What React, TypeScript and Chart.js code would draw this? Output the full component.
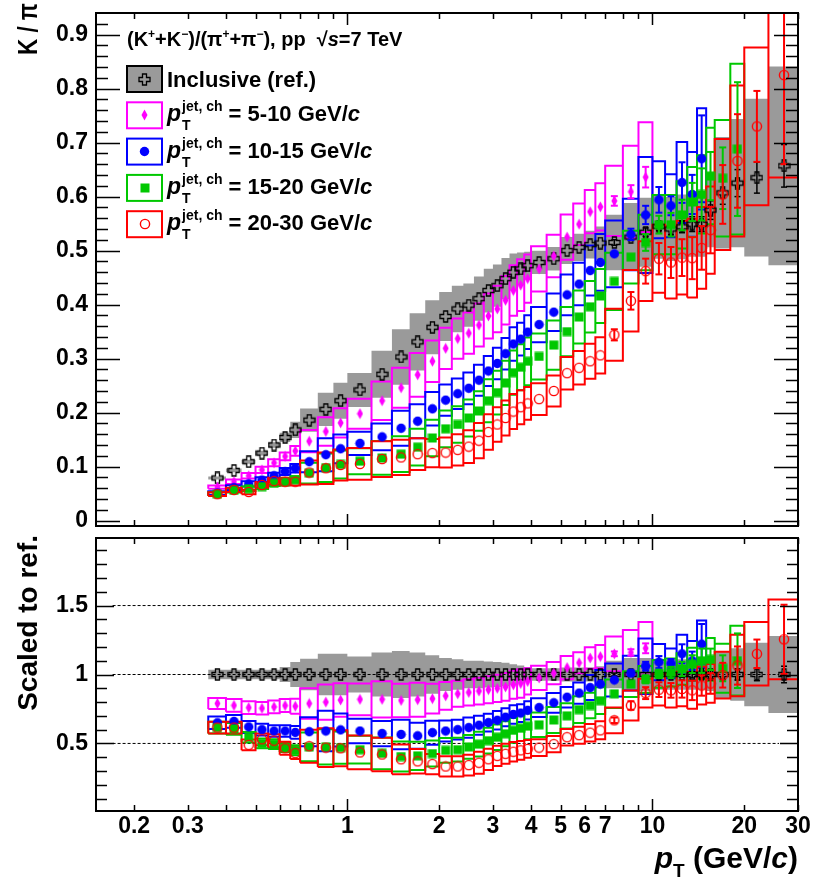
import React, { useEffect, useRef } from "react";
import { Chart, registerables } from "chart.js";

Chart.register(...registerables);

const FONT = "'Liberation Sans', Arial, Helvetica, sans-serif";

// ---------------- data ----------------
const ptLow = [0.35, 0.4, 0.45, 0.5, 0.55, 0.6, 0.65, 0.7, 0.8, 0.9, 1.0, 1.2, 1.4, 1.6, 1.8, 2.0, 2.2, 2.4, 2.6, 2.8, 3.0, 3.2, 3.4, 3.6, 3.8, 4.0, 4.5, 5.0, 5.5, 6.0, 6.5, 7.0, 8, 9, 10, 11, 12, 13, 14, 15, 16, 18, 20, 24];
const ptHigh = [0.4, 0.45, 0.5, 0.55, 0.6, 0.65, 0.7, 0.8, 0.9, 1.0, 1.2, 1.4, 1.6, 1.8, 2.0, 2.2, 2.4, 2.6, 2.8, 3.0, 3.2, 3.4, 3.6, 3.8, 4.0, 4.5, 5.0, 5.5, 6.0, 6.5, 7.0, 8, 9, 10, 11, 12, 13, 14, 15, 16, 18, 20, 24, 30];
const ptCenter = [0.375, 0.425, 0.475, 0.525, 0.575, 0.625, 0.675, 0.75, 0.85, 0.95, 1.1, 1.3, 1.5, 1.7, 1.9, 2.1, 2.3, 2.5, 2.7, 2.9, 3.1, 3.3, 3.5, 3.7, 3.9, 4.25, 4.75, 5.25, 5.75, 6.25, 6.75, 7.5, 8.5, 9.5, 10.5, 11.5, 12.5, 13.5, 14.5, 15.5, 17, 19, 22, 27];

// inclusive K/pi
const inclKpi = [0.079, 0.093, 0.109, 0.125, 0.140, 0.154, 0.168, 0.186, 0.206, 0.222, 0.242, 0.271, 0.303, 0.331, 0.358, 0.378, 0.392, 0.399, 0.411, 0.426, 0.435, 0.448, 0.460, 0.466, 0.472, 0.478, 0.485, 0.500, 0.506, 0.511, 0.514, 0.515, 0.525, 0.534, 0.545, 0.540, 0.544, 0.549, 0.549, 0.575, 0.607, 0.625, 0.635, 0.657];
const inclRatio = [1, 1, 1, 1, 1, 1, 1, 1, 1, 1, 1, 1, 1, 1, 1, 1, 1, 1, 1, 1, 1, 1, 1, 1, 1, 1, 1, 1, 1, 1, 1, 1, 1, 1, 1, 1, 1, 1, 1, 1, 1, 1, 1, 1];
const inclSysRel = [0.035, 0.035, 0.035, 0.035, 0.035, 0.055, 0.09, 0.115, 0.15, 0.15, 0.13, 0.16, 0.17, 0.16, 0.14, 0.12, 0.11, 0.10, 0.10, 0.095, 0.09, 0.085, 0.075, 0.065, 0.055, 0.045, 0.045, 0.05, 0.05, 0.05, 0.06, 0.10, 0.12, 0.12, 0.11, 0.11, 0.11, 0.11, 0.11, 0.12, 0.17, 0.19, 0.23, 0.28];
const inclStatRel = [0, 0, 0, 0, 0, 0, 0, 0, 0, 0, 0, 0, 0, 0, 0, 0, 0, 0, 0, 0, 0, 0, 0, 0, 0, 0, 0, 0, 0, 0, 0, 0.01, 0.01, 0.015, 0.015, 0.02, 0.02, 0.025, 0.025, 0.03, 0.035, 0.04, 0.045, 0.06];

// jet pT 5-10 GeV/c
const jet5to10 = [0.062, 0.072, 0.083, 0.094, 0.107, 0.119, 0.129, 0.147, 0.165, 0.181, 0.198, 0.222, 0.246, 0.270, 0.295, 0.319, 0.337, 0.347, 0.362, 0.379, 0.392, 0.408, 0.426, 0.436, 0.448, 0.466, 0.490, 0.525, 0.549, 0.572, 0.581, 0.592, 0.609, 0.636];
const jet5to10Ratio = [0.79, 0.776, 0.76, 0.755, 0.765, 0.775, 0.77, 0.79, 0.80, 0.815, 0.82, 0.82, 0.812, 0.817, 0.825, 0.845, 0.86, 0.87, 0.88, 0.89, 0.90, 0.91, 0.925, 0.935, 0.95, 0.975, 1.01, 1.05, 1.085, 1.12, 1.13, 1.15, 1.16, 1.19];
const jet5to10Sys = [0.05, 0.06, 0.06, 0.06, 0.06, 0.06, 0.07, 0.14, 0.16, 0.15, 0.14, 0.16, 0.15, 0.15, 0.13, 0.12, 0.11, 0.11, 0.11, 0.11, 0.11, 0.11, 0.11, 0.11, 0.10, 0.09, 0.08, 0.08, 0.07, 0.07, 0.075, 0.11, 0.14, 0.16];
const jet5to10Stat = [0, 0, 0, 0, 0, 0, 0, 0, 0, 0, 0, 0, 0, 0, 0, 0, 0, 0, 0, 0, 0, 0, 0, 0, 0, 0, 0, 0, 0, 0, 0, 0.015, 0.02, 0.03];

// jet pT 10-15 GeV/c
const jet10to15 = [0.051, 0.061, 0.068, 0.075, 0.083, 0.091, 0.097, 0.109, 0.122, 0.133, 0.143, 0.155, 0.171, 0.184, 0.207, 0.223, 0.235, 0.245, 0.260, 0.277, 0.291, 0.309, 0.327, 0.336, 0.349, 0.363, 0.386, 0.418, 0.438, 0.463, 0.478, 0.494, 0.530, 0.566, 0.594, 0.583, 0.626, 0.604, 0.670];
const jet10to15Ratio = [0.65, 0.66, 0.62, 0.60, 0.59, 0.59, 0.58, 0.585, 0.59, 0.598, 0.59, 0.572, 0.565, 0.555, 0.578, 0.59, 0.60, 0.615, 0.632, 0.651, 0.668, 0.69, 0.71, 0.72, 0.74, 0.76, 0.795, 0.835, 0.865, 0.905, 0.93, 0.96, 1.01, 1.06, 1.09, 1.08, 1.15, 1.10, 1.22];
const jet10to15Sys = [0.07, 0.07, 0.07, 0.07, 0.07, 0.07, 0.08, 0.18, 0.25, 0.20, 0.15, 0.16, 0.19, 0.17, 0.15, 0.13, 0.12, 0.12, 0.11, 0.10, 0.10, 0.095, 0.095, 0.09, 0.09, 0.09, 0.09, 0.09, 0.09, 0.10, 0.11, 0.125, 0.125, 0.19, 0.12, 0.10, 0.12, 0.13, 0.14];
const jet10to15Stat = [0, 0, 0, 0, 0, 0, 0, 0, 0, 0, 0, 0, 0, 0, 0, 0, 0, 0, 0, 0, 0, 0, 0, 0, 0, 0, 0, 0, 0, 0, 0, 0, 0.02, 0.03, 0.04, 0.03, 0.06, 0.06, 0.12];

// jet pT 15-20 GeV/c
const jet15to20 = [0.049, 0.056, 0.059, 0.063, 0.069, 0.072, 0.076, 0.088, 0.098, 0.104, 0.110, 0.116, 0.123, 0.136, 0.153, 0.170, 0.178, 0.190, 0.203, 0.222, 0.237, 0.255, 0.274, 0.284, 0.295, 0.304, 0.325, 0.350, 0.377, 0.396, 0.416, 0.443, 0.488, 0.515, 0.548, 0.548, 0.566, 0.590, 0.604, 0.638, 0.634, 0.688];
const jet15to20Ratio = [0.615, 0.605, 0.545, 0.50, 0.495, 0.47, 0.45, 0.475, 0.475, 0.47, 0.455, 0.428, 0.405, 0.41, 0.427, 0.45, 0.455, 0.475, 0.495, 0.52, 0.545, 0.57, 0.595, 0.61, 0.625, 0.635, 0.67, 0.70, 0.745, 0.775, 0.81, 0.86, 0.93, 0.965, 1.005, 1.015, 1.04, 1.075, 1.10, 1.11, 1.045, 1.10];
const jet15to20Sys = [0.07, 0.07, 0.07, 0.07, 0.07, 0.07, 0.08, 0.22, 0.27, 0.25, 0.22, 0.27, 0.27, 0.25, 0.22, 0.2, 0.19, 0.18, 0.18, 0.18, 0.17, 0.16, 0.15, 0.15, 0.15, 0.14, 0.14, 0.13, 0.13, 0.12, 0.12, 0.12, 0.10, 0.10, 0.10, 0.10, 0.11, 0.11, 0.12, 0.14, 0.17, 0.23];
const jet15to20Stat = [0, 0, 0, 0, 0, 0, 0, 0, 0, 0, 0, 0, 0, 0, 0, 0, 0, 0, 0, 0, 0, 0, 0, 0, 0, 0, 0, 0, 0, 0, 0, 0, 0, 0.03, 0.03, 0.04, 0.05, 0.06, 0.08, 0.07, 0.09, 0.18];

// jet pT 20-30 GeV/c
const jet20to30 = [0.049, 0.057, 0.053, 0.066, 0.073, 0.072, 0.072, 0.089, 0.097, 0.103, 0.105, 0.114, 0.117, 0.123, 0.125, 0.126, 0.131, 0.137, 0.148, 0.164, 0.178, 0.190, 0.202, 0.210, 0.217, 0.225, 0.240, 0.273, 0.283, 0.295, 0.306, 0.344, 0.407, 0.462, 0.485, 0.478, 0.487, 0.486, 0.505, 0.538, 0.604, 0.666, 0.730, 0.825];
const jet20to30Ratio = [0.615, 0.615, 0.49, 0.53, 0.52, 0.465, 0.43, 0.48, 0.47, 0.465, 0.435, 0.42, 0.385, 0.37, 0.35, 0.333, 0.333, 0.343, 0.36, 0.385, 0.41, 0.425, 0.44, 0.45, 0.46, 0.47, 0.495, 0.545, 0.56, 0.578, 0.595, 0.668, 0.775, 0.865, 0.89, 0.885, 0.895, 0.885, 0.92, 0.935, 0.995, 1.065, 1.15, 1.255];
const jet20to30Sys = [0.07, 0.07, 0.08, 0.08, 0.09, 0.10, 0.10, 0.25, 0.30, 0.28, 0.28, 0.29, 0.28, 0.24, 0.21, 0.22, 0.22, 0.22, 0.22, 0.2, 0.18, 0.17, 0.16, 0.15, 0.14, 0.13, 0.12, 0.11, 0.11, 0.11, 0.11, 0.14, 0.14, 0.12, 0.13, 0.14, 0.14, 0.15, 0.15, 0.15, 0.17, 0.21, 0.20, 0.23];
const jet20to30Stat = [0, 0, 0, 0, 0, 0, 0, 0, 0, 0, 0, 0, 0, 0, 0, 0, 0, 0, 0, 0, 0, 0, 0, 0, 0, 0, 0, 0, 0, 0, 0, 0.03, 0.04, 0.05, 0.06, 0.06, 0.07, 0.08, 0.08, 0.08, 0.09, 0.13, 0.09, 0.2];

// axes
const xTickValues = [0.2, 0.3, 0.4, 0.5, 0.6, 0.7, 0.8, 0.9, 1, 2, 3, 4, 5, 6, 7, 8, 9, 10, 20, 30];
const xTickLabels = [0.2, 0.3, 1, 2, 3, 4, 5, 6, 7, 10, 20, 30];
const xMajorTicks = [1, 10];
const yTopLabels = [0, 0.1, 0.2, 0.3, 0.4, 0.5, 0.6, 0.7, 0.8, 0.9];
const yRatioLabels = [0.5, 1, 1.5];
const refLines = [0.5, 1, 1.5];
const refLineRange = [0.17, 26];

const jetRanges = ["5-10", "10-15", "15-20", "20-30"];
const inclLabel = "Inclusive (ref.)";

// ---------------- styles ----------------
const C_MAG = "#ff00ff";
const C_BLUE = "#0000ff";
const C_GREEN = "#00c800";
const C_RED = "#ff0000";
const C_GRAY = "#9a9a9a";

type Pt = { x: number; y: number | null };
type Run = { t: string; size: number; dy?: number; italic?: boolean };

function runFont(r: Run) {
  return `${r.italic ? "italic " : ""}bold ${r.size}px ${FONT}`;
}
function runsWidth(ctx: CanvasRenderingContext2D, runs: Run[]) {
  let w = 0;
  runs.forEach((r) => {
    ctx.font = runFont(r);
    w += ctx.measureText(r.t).width;
  });
  return w;
}
function drawRuns(ctx: CanvasRenderingContext2D, x: number, y: number, runs: Run[]) {
  let cx = x;
  runs.forEach((r) => {
    ctx.font = runFont(r);
    ctx.fillText(r.t, cx, y + (r.dy || 0));
    cx += ctx.measureText(r.t).width;
  });
  return cx;
}

function makeMarkers() {
  const mk = (w: number, h: number, draw: (g: CanvasRenderingContext2D) => void) => {
    const c = document.createElement("canvas");
    c.width = w;
    c.height = h;
    draw(c.getContext("2d")!);
    return c;
  };
  const cross = mk(13, 13, (g) => {
    const c = 6.5, a = 2, L = 5.5;
    g.beginPath();
    g.moveTo(c - a, c - L); g.lineTo(c + a, c - L); g.lineTo(c + a, c - a); g.lineTo(c + L, c - a);
    g.lineTo(c + L, c + a); g.lineTo(c + a, c + a); g.lineTo(c + a, c + L); g.lineTo(c - a, c + L);
    g.lineTo(c - a, c + a); g.lineTo(c - L, c + a); g.lineTo(c - L, c - a); g.lineTo(c - a, c - a);
    g.closePath();
    g.strokeStyle = "#000";
    g.lineWidth = 1.3;
    g.stroke();
  });
  const diamond = mk(7, 12, (g) => {
    g.beginPath();
    g.moveTo(3.5, 0.5); g.lineTo(6.5, 6); g.lineTo(3.5, 11.5); g.lineTo(0.5, 6);
    g.closePath();
    g.fillStyle = C_MAG;
    g.fill();
  });
  const circle = mk(11, 11, (g) => {
    g.beginPath();
    g.arc(5.5, 5.5, 4.7, 0, Math.PI * 2);
    g.fillStyle = C_BLUE;
    g.fill();
  });
  const square = mk(10, 10, (g) => {
    g.fillStyle = C_GREEN;
    g.fillRect(0.5, 0.5, 9, 9);
  });
  const open = mk(12, 12, (g) => {
    g.beginPath();
    g.arc(6, 6, 4.6, 0, Math.PI * 2);
    g.strokeStyle = C_RED;
    g.lineWidth = 1.4;
    g.stroke();
  });
  return { cross, diamond, circle, square, open };
}

type Markers = ReturnType<typeof makeMarkers>;

function boxPts(vals: number[], sys: number[]): Pt[] {
  const out: Pt[] = [];
  vals.forEach((v, i) => {
    const lo = v * (1 - sys[i]);
    const hi = v * (1 + sys[i]);
    out.push({ x: ptLow[i], y: lo }, { x: ptLow[i], y: hi }, { x: ptHigh[i], y: hi }, { x: ptHigh[i], y: lo }, { x: ptLow[i], y: lo }, { x: ptHigh[i], y: null });
  });
  return out;
}
function bandPts(vals: number[], sys: number[]): Pt[] {
  const up: Pt[] = [];
  const dn: Pt[] = [];
  vals.forEach((v, i) => {
    up.push({ x: ptLow[i], y: v * (1 + sys[i]) }, { x: ptHigh[i], y: v * (1 + sys[i]) });
    dn.push({ x: ptLow[i], y: v * (1 - sys[i]) }, { x: ptHigh[i], y: v * (1 - sys[i]) });
  });
  return [...up, ...dn.reverse()];
}
function errPts(vals: number[], stat: number[]): Pt[] {
  const out: Pt[] = [];
  vals.forEach((v, i) => {
    if (stat[i] > 0) out.push({ x: ptCenter[i], y: v * (1 - stat[i]) }, { x: ptCenter[i], y: v * (1 + stat[i]) }, { x: ptCenter[i], y: null });
  });
  return out;
}
function markPts(vals: number[]): Pt[] {
  return vals.map((v, i) => ({ x: ptCenter[i], y: v }));
}

function seriesList(mk: Markers) {
  return [
    { top: jet5to10, ratio: jet5to10Ratio, sys: jet5to10Sys, stat: jet5to10Stat, color: C_MAG, marker: mk.diamond },
    { top: jet10to15, ratio: jet10to15Ratio, sys: jet10to15Sys, stat: jet10to15Stat, color: C_BLUE, marker: mk.circle },
    { top: jet15to20, ratio: jet15to20Ratio, sys: jet15to20Sys, stat: jet15to20Stat, color: C_GREEN, marker: mk.square },
    { top: jet20to30, ratio: jet20to30Ratio, sys: jet20to30Sys, stat: jet20to30Stat, color: C_RED, marker: mk.open },
  ];
}

function buildDatasets(panel: "top" | "ratio", mk: Markers) {
  const ds: any[] = [];
  const incl = panel === "top" ? inclKpi : inclRatio;
  ds.push({ data: bandPts(incl, inclSysRel), fill: "shape", backgroundColor: C_GRAY, borderWidth: 0, pointRadius: 0, order: 100 });
  if (panel === "ratio") {
    const pts: Pt[] = [];
    refLines.forEach((v) => pts.push({ x: refLineRange[0], y: v }, { x: refLineRange[1], y: v }, { x: refLineRange[1], y: null }));
    ds.push({ data: pts, borderColor: "#000", borderWidth: 1, borderDash: [3, 2], pointRadius: 0, fill: false, order: 95 });
  }
  const ser = seriesList(mk);
  ser.forEach((s, k) => {
    const vals = panel === "top" ? s.top : s.ratio;
    ds.push({ data: boxPts(vals, s.sys), borderColor: s.color, borderWidth: 2, pointRadius: 0, fill: false, order: 80 - k });
  });
  ds.push({ data: errPts(incl, inclStatRel), borderColor: "#000", borderWidth: 1.5, pointStyle: "line", pointRadius: 3, pointBorderColor: "#000", pointBorderWidth: 1.5, fill: false, order: 31 });
  ds.push({ data: markPts(incl), showLine: false, pointStyle: mk.cross, pointRadius: 5, order: 30 });
  ser.forEach((s, k) => {
    const vals = panel === "top" ? s.top : s.ratio;
    ds.push({ data: errPts(vals, s.stat), borderColor: s.color, borderWidth: 2, pointStyle: "line", pointRadius: 3.5, pointBorderColor: s.color, pointBorderWidth: 2, fill: false, order: 29 - 2 * k });
    ds.push({ data: markPts(vals), showLine: false, pointStyle: s.marker, pointRadius: 5, order: 28 - 2 * k });
  });
  return ds;
}

function framePlugin(yTicks: number[], yMajor: number[], majLen: number, minLen: number) {
  return {
    id: "frameTicks",
    afterDraw(chart: any) {
      const { ctx, chartArea: a } = chart;
      const x = chart.scales.x;
      const y = chart.scales.y;
      ctx.save();
      ctx.strokeStyle = "#000";
      ctx.lineWidth = 1.5;
      ctx.beginPath();
      yTicks.forEach((v) => {
        const py = Math.round(y.getPixelForValue(v)) + 0.5;
        const len = yMajor.includes(v) ? majLen : minLen;
        ctx.moveTo(a.left, py); ctx.lineTo(a.left + len, py);
        ctx.moveTo(a.right, py); ctx.lineTo(a.right - len, py);
      });
      xTickValues.forEach((v) => {
        const px = Math.round(x.getPixelForValue(v)) + 0.5;
        const len = xMajorTicks.includes(v) ? 12 : 6;
        ctx.moveTo(px, a.bottom); ctx.lineTo(px, a.bottom - len);
        ctx.moveTo(px, a.top); ctx.lineTo(px, a.top + len);
      });
      ctx.stroke();
      ctx.lineWidth = 2;
      ctx.strokeRect(a.left, a.top, a.right - a.left, a.bottom - a.top);
      ctx.restore();
    },
  };
}

function topTextPlugin(mk: Markers) {
  return {
    id: "topText",
    afterDraw(chart: any) {
      const ctx: CanvasRenderingContext2D = chart.ctx;
      ctx.save();
      ctx.fillStyle = "#000";
      ctx.textBaseline = "alphabetic";
      ctx.textAlign = "left";
      // y title
      ctx.save();
      ctx.translate(37, 3);
      ctx.rotate(-Math.PI / 2);
      ctx.scale(0.8, 1);
      ctx.textAlign = "right";
      ctx.font = `bold 28px ${FONT}`;
      ctx.fillText("K / π", 0, 0);
      ctx.restore();
      // header
      drawRuns(ctx, 127, 46, [
        { t: "(K", size: 20 }, { t: "+", size: 12, dy: -8 }, { t: "+K", size: 20 }, { t: "−", size: 12, dy: -8 },
        { t: ")/(", size: 20 }, { t: "π", size: 20 }, { t: "+", size: 12, dy: -8 }, { t: "+π", size: 20 },
        { t: "−", size: 12, dy: -8 }, { t: "), pp  ", size: 20 }, { t: "√", size: 20 }, { t: "s", size: 20, italic: true },
        { t: "=7 TeV", size: 20 },
      ]);
      // legend
      const ser = seriesList(mk);
      const rows = [{ fill: C_GRAY, stroke: "#000", marker: mk.cross }, ...ser.map((s) => ({ fill: "#fff", stroke: s.color, marker: s.marker }))];
      rows.forEach((r, k) => {
        const yTop = 66 + k * 36.3;
        ctx.fillStyle = r.fill;
        ctx.fillRect(127, yTop, 35, 26);
        ctx.strokeStyle = r.stroke;
        ctx.lineWidth = 2;
        ctx.strokeRect(127, yTop, 35, 26);
        ctx.drawImage(r.marker, Math.round(144.5 - r.marker.width / 2), Math.round(yTop + 13 - r.marker.height / 2));
        ctx.fillStyle = "#000";
        if (k === 0) {
          drawRuns(ctx, 167, yTop + 21, [{ t: inclLabel, size: 22 }]);
        } else {
          ctx.font = runFont({ t: "p", size: 23, italic: true });
          ctx.fillText("p", 167, yTop + 19);
          const sx = 167 + ctx.measureText("p").width + 1;
          ctx.font = runFont({ t: "", size: 14 });
          ctx.fillText("jet, ch", sx, yTop + 9);
          ctx.fillText("T", sx, yTop + 28);
          const w = ctx.measureText("jet, ch").width;
          drawRuns(ctx, sx + w, yTop + 19, [{ t: " = " + jetRanges[k - 1] + " GeV/", size: 22 }, { t: "c", size: 22, italic: true }]);
        }
      });
      ctx.restore();
    },
  };
}

const botTextPlugin = {
  id: "botText",
  afterDraw(chart: any) {
    const ctx: CanvasRenderingContext2D = chart.ctx;
    ctx.save();
    ctx.fillStyle = "#000";
    ctx.textBaseline = "alphabetic";
    ctx.save();
    ctx.translate(37, 3);
    ctx.rotate(-Math.PI / 2);
    ctx.textAlign = "right";
    ctx.font = `bold 28px ${FONT}`;
    ctx.fillText("Scaled to ref.", 0, 0);
    ctx.restore();
    ctx.textAlign = "left";
    const runs: Run[] = [
      { t: "p", size: 30, italic: true }, { t: "T", size: 19, dy: 9 }, { t: " (GeV/", size: 30 }, { t: "c", size: 30, italic: true }, { t: ")", size: 30 },
    ];
    const w = runsWidth(ctx, runs);
    drawRuns(ctx, 798 - w, 336, runs);
    ctx.restore();
  },
};

function xScale(showLabels: boolean, height: number) {
  return {
    type: "logarithmic",
    min: 0.15,
    max: 30,
    grid: { display: false, drawTicks: false },
    border: { display: false },
    ticks: {
      display: showLabels,
      autoSkip: false,
      maxRotation: 0,
      minRotation: 0,
      padding: 2,
      color: "#000",
      font: { family: FONT, size: 23, weight: "bold" },
      callback: (v: any) => (xTickLabels.includes(Number(v)) ? String(v) : ""),
    },
    afterBuildTicks: (s: any) => {
      s.ticks = xTickValues.map((v) => ({ value: v }));
    },
    afterFit: (s: any) => {
      s.height = height;
      s.paddingLeft = 0;
      s.paddingRight = 0;
    },
  };
}

function yScale(min: number, max: number, labels: number[]) {
  return {
    type: "linear",
    min,
    max,
    grid: { display: false, drawTicks: false },
    border: { display: false },
    ticks: {
      padding: 8,
      color: "#000",
      font: { family: FONT, size: 23, weight: "bold" },
      callback: (v: any) => String(v),
    },
    afterBuildTicks: (s: any) => {
      s.ticks = labels.map((v) => ({ value: v }));
    },
    afterFit: (s: any) => {
      s.width = 96;
      s.paddingTop = 0;
      s.paddingBottom = 0;
    },
  };
}

export default function App() {
  const topRef = useRef<HTMLCanvasElement>(null);
  const botRef = useRef<HTMLCanvasElement>(null);

  useEffect(() => {
    Chart.defaults.font.family = FONT;
    const mk = makeMarkers();

    const topMinor: number[] = [];
    for (let k = 0; k <= 46; k++) topMinor.push(Number((k * 0.02).toFixed(2)));
    const botMinor: number[] = [];
    for (let k = 1; k <= 19; k++) botMinor.push(Number((k * 0.1).toFixed(1)));

    const common = {
      animation: false,
      responsive: false,
      maintainAspectRatio: false,
      devicePixelRatio: 1,
      events: [],
      plugins: { legend: { display: false }, tooltip: { enabled: false } },
    };

    const top = new Chart(topRef.current!, {
      type: "line",
      data: { datasets: buildDatasets("top", mk) },
      options: {
        ...common,
        layout: { padding: { left: 0, right: 17, top: 13, bottom: 0 } },
        scales: { x: xScale(false, 5), y: yScale(-0.01, 0.94, yTopLabels) },
      } as any,
      plugins: [framePlugin(topMinor, [0, 0.1, 0.2, 0.3, 0.4, 0.5, 0.6, 0.7, 0.8, 0.9], 24, 12), topTextPlugin(mk)],
    } as any);

    const bot = new Chart(botRef.current!, {
      type: "line",
      data: { datasets: buildDatasets("ratio", mk) },
      options: {
        ...common,
        layout: { padding: { left: 0, right: 17, top: 5, bottom: 0 } },
        scales: { x: xScale(true, 71), y: yScale(0.01, 1.99, yRatioLabels) },
      } as any,
      plugins: [framePlugin(botMinor, [0.5, 1, 1.5], 18, 11), botTextPlugin],
    } as any);

    return () => {
      top.destroy();
      bot.destroy();
    };
  }, []);

  return (
    <div style={{ position: "absolute", left: 0, top: 0, width: 815, height: 882, background: "#fff" }}>
      <canvas ref={topRef} width={815} height={532} style={{ position: "absolute", left: 0, top: 0, width: 815, height: 532 }} />
      <canvas ref={botRef} width={815} height={350} style={{ position: "absolute", left: 0, top: 532, width: 815, height: 350 }} />
    </div>
  );
}
